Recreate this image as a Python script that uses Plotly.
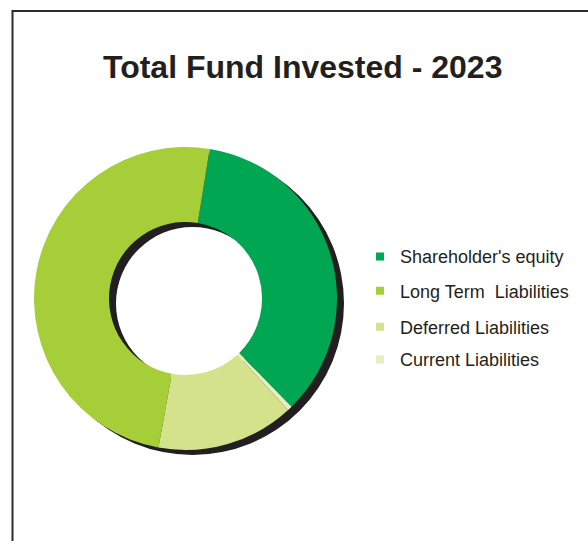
import plotly.graph_objects as go

# Fund composition for 2023 (share of total, %)
categories = ["Shareholder's equity", "Long Term\u00a0 Liabilities", "Deferred Liabilities", "Current Liabilities"]
shares = [35.1, 49.7, 14.7, 0.5]
colors = ["#00a651", "#a6ce39", "#d4e38b", "#e6efc4"]

title_text = "Total Fund Invested - 2023"

W, H = 588, 541
cx, cy, r = 185.5, 298.5, 151.5      # ring centre and outer radius (px)
shadow_dx, shadow_dy = 7, 5          # drop-shadow offset (px)
hole = 0.505


def dom(x_c, y_c):
    return dict(x=[(x_c - r) / W, (x_c + r) / W],
                y=[1 - (y_c + r) / H, 1 - (y_c - r) / H])


fig = go.Figure()

# drop shadow behind the ring
fig.add_trace(go.Pie(
    values=[1], labels=["shadow"], hole=hole, sort=False,
    marker=dict(colors=["#231f20"], line=dict(width=0)),
    textinfo="none", hoverinfo="skip", showlegend=False,
    domain=dom(cx + shadow_dx, cy + shadow_dy),
))

# the ring itself
fig.add_trace(go.Pie(
    values=shares, labels=categories, hole=hole, sort=False,
    direction="counterclockwise", rotation=9.2,
    marker=dict(colors=colors, line=dict(width=0)),
    textinfo="none", showlegend=False,
    domain=dom(cx, cy),
))

# legend entries, one legend per row so the spacing is controlled
legend_rows_y = [256.7, 291.0, 327.0, 359.7]
layout_legends = {}
for i, (name, col, yy) in enumerate(zip(categories, colors, legend_rows_y)):
    key = "legend" if i == 0 else f"legend{i + 1}"
    fig.add_trace(go.Scatter(
        x=[None], y=[None], mode="markers", name=name,
        marker=dict(symbol="square", size=8, color=col, line=dict(width=0)),
        legend=key, hoverinfo="skip",
    ))
    layout_legends[key] = dict(
        x=360 / W, xanchor="left", y=1 - yy / H, yanchor="middle",
        bgcolor="rgba(0,0,0,0)", borderwidth=0,
        font=dict(family="Liberation Sans, Arial, sans-serif", size=18, color="#231f20"),
        itemwidth=30,
    )

fig.update_layout(
    width=W, height=H,
    margin=dict(l=0, r=0, t=0, b=0),
    paper_bgcolor="white", plot_bgcolor="white",
    xaxis=dict(visible=False), yaxis=dict(visible=False),
    title=dict(
        text=f"<b>{title_text}</b>", x=302.7 / W, xanchor="center",
        y=1 - 66.7 / H, yanchor="middle", yref="container", xref="container",
        font=dict(family="Liberation Sans, Arial, sans-serif", size=32, color="#231f20"),
    ),
    shapes=[dict(
        type="rect", xref="paper", yref="paper",
        x0=12.5 / W, y0=-0.05, x1=1.05, y1=1 - 11 / H,
        line=dict(color="#2e2b2c", width=2), fillcolor="rgba(0,0,0,0)", layer="above",
    )],
    **layout_legends,
)

fig.write_html("out.html")
